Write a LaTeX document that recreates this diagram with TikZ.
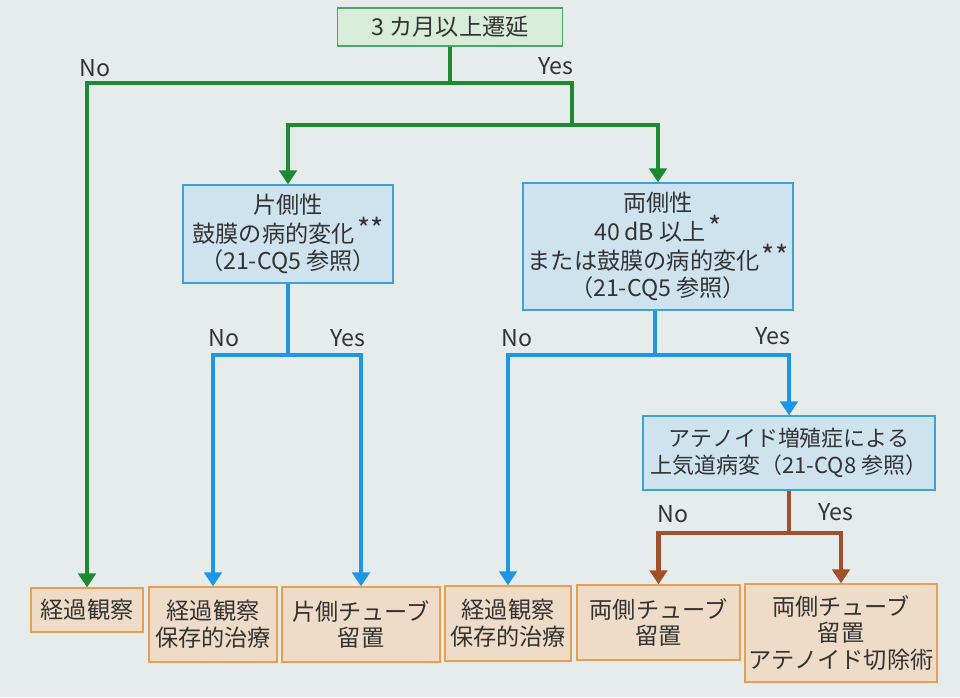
\documentclass[tikz,border=0pt]{standalone}
\usepackage{fontspec}
\setmainfont{Noto Sans CJK JP}
\usetikzlibrary{arrows.meta, positioning, calc}
\definecolor{pagebg}{HTML}{E6EBEB}
\definecolor{qgreen}{HTML}{1B8A30}
\definecolor{qblue}{HTML}{1E96E6}
\definecolor{qbrown}{HTML}{A0502A}
\definecolor{inktext}{HTML}{333333}
\definecolor{startfill}{HTML}{D8ECDA}
\definecolor{startdraw}{HTML}{48A868}
\definecolor{testfill}{HTML}{CFE3EF}
\definecolor{testdraw}{HTML}{3AA3DC}
\definecolor{endfill}{HTML}{EEDCC8}
\definecolor{enddraw}{HTML}{E8A050}
\newcommand{\starmark}[1]{\raisebox{0.12em}{\kern0.1em\fontsize{16}{16}\selectfont #1}}
\tikzset{
  basebox/.style={rectangle, align=center, text=inktext, line width=0.8pt,
                  font=\fontsize{13.2}{15.3}\selectfont, inner sep=2pt},
  startbox/.style={basebox, draw=startdraw, fill=startfill},
  testbox/.style={basebox, draw=testdraw, fill=testfill},
  endbox/.style={basebox, draw=enddraw, fill=endfill},
  branchlbl/.style={text=inktext, font=\fontsize{13.2}{15.3}\selectfont, inner sep=1pt},
  greenline/.style={line width=2.8pt, draw=qgreen},
  blueline/.style={line width=2.8pt, draw=qblue},
  brownline/.style={line width=2.8pt, draw=qbrown},
  greenarr/.style={greenline, -{Triangle[width=10pt, length=8pt]}, color=qgreen},
  bluearr/.style={blueline, -{Triangle[width=10pt, length=8pt]}, color=qblue},
  brownarr/.style={brownline, -{Triangle[width=10pt, length=8pt]}, color=qbrown},
}

\begin{document}
\begin{tikzpicture}[x=0.02cm, y=-0.02cm]
  \fill[pagebg] (0,0) rectangle (960,697);

  \node[startbox, minimum width=4.5cm, minimum height=0.76cm] (delay) at (450,27) {3 カ月以上遷延};
  \node[testbox, minimum width=4.2cm, minimum height=1.96cm] (uni) at (288,234)
    {片側性\\鼓膜の病的変化\starmark{**}\\（21-CQ5 参照）};
  \node[testbox, minimum width=5.4cm, minimum height=2.54cm] (bi) at (658,246.5)
    {両側性\\40\,dB 以上\starmark{*}\\または鼓膜の病的変化\starmark{**}\\（21-CQ5 参照）};
  \node[testbox, minimum width=5.84cm, minimum height=1.48cm,
        font=\fontsize{12.5}{15.3}\selectfont] (aden) at (789,453)
    {アテノイド増殖症による\\上気道病変（21-CQ8 参照）};

  \node[endbox, minimum width=2.24cm, minimum height=0.88cm] (obs) at (87,610) {経過観察};
  \node[endbox, minimum width=2.56cm, minimum height=1.5cm] (uniobs) at (213,624.5) {経過観察\\保存的治療};
  \node[endbox, minimum width=3.16cm, minimum height=1.5cm] (unitube) at (361,624.5) {片側チューブ\\留置};
  \node[endbox, minimum width=2.52cm, minimum height=1.5cm] (biobs) at (508,623.5) {経過観察\\保存的治療};
  \node[endbox, minimum width=3.26cm, minimum height=1.5cm] (bitube) at (658.5,622.5) {両側チューブ\\留置};
  \node[endbox, minimum width=3.84cm, minimum height=1.96cm] (biaden) at (841,633)
    {両側チューブ\\留置\\アテノイド切除術};

  \coordinate (gsplit) at (delay.south |- 0,83);
  \coordinate (gyes) at (572,125);
  \coordinate (usplit) at (uni.south |- 0,355);
  \coordinate (bsplit) at (655,355);
  \coordinate (asplit) at (aden.south |- 0,533);

  \draw[greenline] (delay) -- (gsplit);
  \draw[greenline] (gsplit) -| (gyes);
  \draw[greenarr] (gsplit) -| (obs);
  \foreach \dst in {uni, bi} {
    \draw[greenarr] (gyes) -| (\dst);
  }

  \draw[blueline] (uni) -- (usplit);
  \draw[blueline] (bi.south -| bsplit) -- (bsplit);
  \foreach \src/\dst in {usplit/uniobs, usplit/unitube, bsplit/biobs, bsplit/aden} {
    \draw[bluearr] (\src) -| (\dst);
  }

  \draw[brownline] (aden) -- (asplit);
  \foreach \dst in {bitube, biaden} {
    \draw[brownarr] (asplit) -| (\dst);
  }

  \node[branchlbl] (gno) at (95,68) {No};
  \node[branchlbl] (gyeslbl) at (556,66) {Yes};
  \node[branchlbl] (uno) at (224,338) {No};
  \node[branchlbl] (uyes) at (348,338) {Yes};
  \node[branchlbl] (bno) at (517,338) {No};
  \node[branchlbl] (byes) at (773,336) {Yes};
  \node[branchlbl] (ano) at (673,514) {No};
  \node[branchlbl] (ayes) at (836,512) {Yes};
\end{tikzpicture}
\end{document}
